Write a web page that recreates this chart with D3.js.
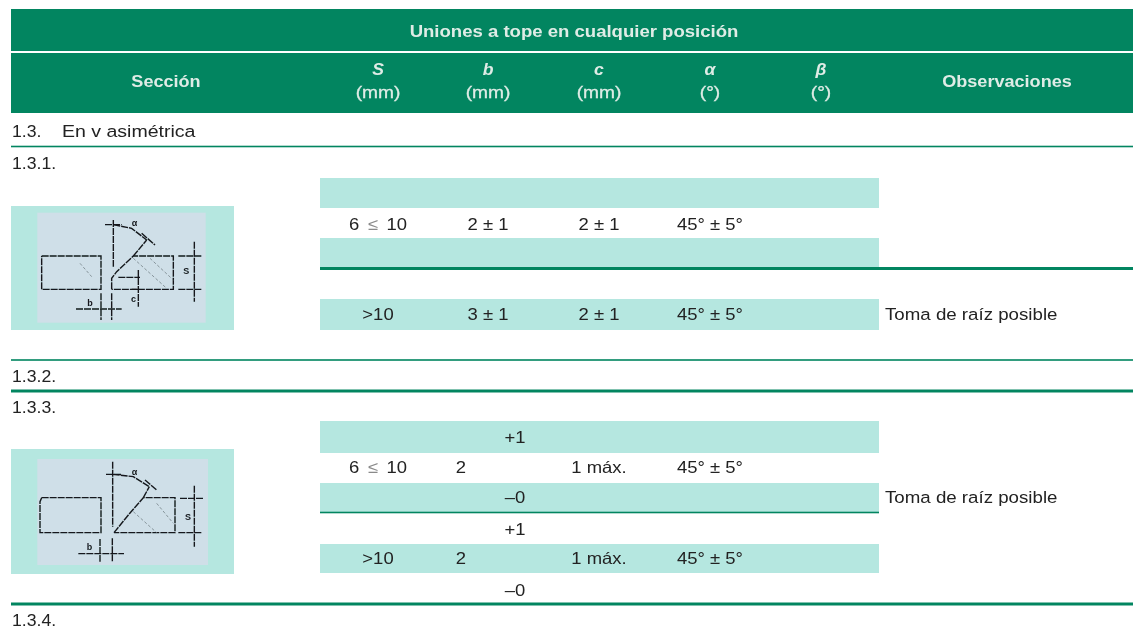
<!DOCTYPE html>
<html><head><meta charset="utf-8">
<script src="https://cdnjs.cloudflare.com/ajax/libs/d3/7.8.5/d3.min.js"></script>
<style>html,body{margin:0;padding:0;background:#fff}svg{display:block}text{font-family:"Liberation Sans",Arial,sans-serif}</style>
</head><body><svg id="c" width="1133" height="632"></svg>
<script>
// ---- data ----
const title = "Uniones a tope en cualquier posición";
const columns = ["seccion","S","b","c","alpha","beta","obs"];
const columnLabels = ["Sección","S","b","c","α","β","Observaciones"];
const columnUnits = ["","(mm)","(mm)","(mm)","(°)","(°)",""];
const sectionLabels = [["sec","1.3."],["r131","1.3.1."],["r132","1.3.2."],["r133","1.3.3."],["r134","1.3.4."]];
const bandRows = ["a1","a3","b1","c1","c3","d2"];
const cells = [
 ["a2","S","6 ≤ 10"],["a2","b","2 ± 1"],["a2","c","2 ± 1"],["a2","alpha","45° ± 5°"],
 ["b1","S",">10"],["b1","b","3 ± 1"],["b1","c","2 ± 1"],["b1","alpha","45° ± 5°"],
 ["c2","S","6 ≤ 10"],["c2","b0","2"],["c2","c","1 máx."],["c2","alpha","45° ± 5°"],
 ["c1","tol","+1"],["c3","tol","–0"],
 ["d1","tol","+1"],["d3","tol","–0"],
 ["d2","S",">10"],["d2","b0","2"],["d2","c","1 máx."],["d2","alpha","45° ± 5°"]
];
const notes = ["Toma de raíz posible","Toma de raíz posible"];
const noteRows = ["b1","c3"];
// section rules: [row key, from, to, weight]
const rules = [["ruleSec","left","right","m"],["ruleA","band","right","h"],["ruleB","left","right","m"],["ruleC","left","right","h"],["ruleD","band","bandEnd","m"],["ruleE","left","right","h"]];
// diagram strokes, in units of the drawing's own grid
const drawing1 = [
 [[125,168],[303,168],[303,268],[125,268],[125,168]],
 [[335,268],[335,235],[350,215],[400,168],[520,168],[520,268],[335,268]],
 [[340,60],[340,200]],[[315,74],[365,74]],
 [[340,74],[395,85],[440,120]],[[425,100],[465,135]],[[400,168],[440,120]],
 [[535,168],[605,168]],[[535,268],[605,268]],[[583,125],[583,305]],
 [[355,232],[420,232]],[[415,210],[415,320]],[[395,268],[420,268]],
 [[303,280],[303,360]],[[335,280],[335,360]],[[228,327],[365,327]]
];
const hatch1 = [[[400,175],[500,265]],[[450,175],[520,240]],[[240,190],[275,230]]];
const drawing2 = [
 [[125,158],[303,158],[303,263],[120,263],[120,170],[125,158]],
 [[342,263],[385,210],[430,158],[525,158],[525,263],[342,263]],
 [[338,50],[338,245]],[[318,88],[365,88]],
 [[338,88],[400,95],[448,125]],[[435,105],[470,135]],[[430,158],[448,125]],
 [[540,160],[610,160]],[[535,263],[605,263]],[[583,122],[583,305]],
 [[300,282],[300,350]],[[337,280],[337,350]],[[235,326],[372,326]]
];
const hatch2 = [[[400,200],[470,263]],[[470,175],[520,235]]];
const drawingLabels1 = [["α",395,78],["S",550,222],["c",393,305],["b",262,318]];
const drawingLabels2 = [["α",395,90],["S",555,225],["b",260,316]];

// ---- scales ----
const colX = d3.scaleOrdinal()
  .domain(["seccion","S","b","c","alpha","beta","obs","b0","tol"])
  .range([166,378,488,599,710,821,1007,461,515]);
const edge = d3.scaleOrdinal().domain(["left","band","bandEnd","right"]).range([11,320,879,1133]);
const rowTop = d3.scaleOrdinal()
  .domain(["a1","a3","b1","c1","c3","d2"]).range([178,238,299,421,483,544]);
const rowBottom = d3.scaleOrdinal()
  .domain(["a1","a3","b1","c1","c3","d2"]).range([208,267,330,453,512,573]);
const rowY = d3.scaleOrdinal()
  .domain(["sec","r131","a2","b1","r132","r133","c1","c2","c3","d1","d2","d3","r134"])
  .range([131,163,224,314,376,407,437,467,497,529,558,590,620]);
const ruleY = d3.scaleOrdinal()
  .domain(["ruleSec","ruleA","ruleB","ruleC","ruleD","ruleE"]).range([146.5,268.5,360,391,512.5,604]);
const ruleW = d3.scaleOrdinal().domain(["m","h"]).range([1.6,3]);

const GREEN="#028560", BAND="#b5e7e0", INK="#222", HEAD="#dfece6";
const at = (x,y,sx)=>`translate(${x},${y}) scale(${sx},1)`;
const svg = d3.select("#c");
const defs = svg.append("defs");
defs.append("filter").attr("id","soft").append("feGaussianBlur").attr("stdDeviation",0.45);
defs.append("filter").attr("id","soft2").attr("x","-5%").attr("y","-5%").attr("width","110%").attr("height","110%").append("feGaussianBlur").attr("stdDeviation",0.6);

// header
const head = svg.append("g");
head.append("rect").attr("x",edge("left")).attr("y",9).attr("width",edge("right")-edge("left")).attr("height",42).attr("fill",GREEN);
head.append("rect").attr("x",edge("left")).attr("y",53).attr("width",edge("right")-edge("left")).attr("height",60).attr("fill",GREEN);
const htxt = svg.append("g").attr("filter","url(#soft)").attr("fill",HEAD).attr("text-anchor","middle");
htxt.append("text").attr("transform",at(574,37,1.16)).attr("font-size",16).attr("font-weight","bold").text(title);
htxt.selectAll("text.lab").data(columns).join("text").attr("class","lab")
  .attr("transform",(d,i)=>at(colX(d),columnUnits[i]?75:87,columnUnits[i]?1.1:1.13))
  .attr("font-size",16).attr("font-weight","bold")
  .attr("font-style",(d,i)=>columnUnits[i]?"italic":"normal")
  .text((d,i)=>columnLabels[i]);
htxt.selectAll("text.unit").data(columns.filter((d,i)=>columnUnits[i])).join("text").attr("class","unit")
  .attr("transform",d=>at(colX(d),98,1.2)).attr("font-size",16)
  .attr("stroke",HEAD).attr("stroke-width",0.3)
  .text(d=>columnUnits[columns.indexOf(d)]);

// bands
svg.append("g").selectAll("rect").data(bandRows).join("rect")
  .attr("x",edge("band")).attr("width",edge("bandEnd")-edge("band"))
  .attr("y",d=>rowTop(d)).attr("height",d=>rowBottom(d)-rowTop(d)).attr("fill",BAND);

// rules
svg.append("g").selectAll("rect").data(rules).join("rect")
  .attr("x",d=>edge(d[1])).attr("width",d=>edge(d[2])-edge(d[1]))
  .attr("y",d=>ruleY(d[0])-ruleW(d[3])/2).attr("height",d=>ruleW(d[3])).attr("fill",GREEN);

// diagrams
const line = d3.line();
function diagram(top, height, innerTop, innerH, innerX, innerW, strokes, hatch, labels){
  const g = svg.append("g");
  const px = d3.scaleLinear().domain([0,720]).range([0,240]);
  const py = d3.scaleLinear().domain([0,405]).range([top,top+135]);
  g.append("rect").attr("x",edge("left")).attr("y",py(height[0])).attr("width",223).attr("height",py(height[1])-py(height[0])).attr("fill",BAND);
  g.append("rect").attr("x",px(innerX)).attr("y",py(innerTop)).attr("width",px(innerW)).attr("height",py(innerH)-py(0)).attr("fill","#cfdfe8");
  const s = g.append("g").attr("filter","url(#soft2)");
  s.selectAll("path.k").data(strokes).join("path").attr("class","k")
    .attr("d",d=>line(d.map(p=>[px(p[0]),py(p[1])])))
    .attr("fill","none").attr("stroke","#14191c").attr("stroke-width",1.4).attr("stroke-dasharray","7 1");
  s.selectAll("path.h").data(hatch).join("path").attr("class","h")
    .attr("d",d=>line(d.map(p=>[px(p[0]),py(p[1])])))
    .attr("fill","none").attr("stroke","#7f8c92").attr("stroke-width",0.9).attr("stroke-dasharray","3 2");
  s.selectAll("text").data(labels).join("text")
    .attr("x",d=>px(d[1])).attr("y",d=>py(d[2])).attr("font-size",9).attr("font-weight","bold").attr("fill","#14191c").text(d=>d[0]);
}
diagram(200,[18,390],38,330,112,505,drawing1,hatch1,drawingLabels1);
diagram(445,[12,387],42,318,112,512,drawing2,hatch2,drawingLabels2);

// body text
const body = svg.append("g").attr("filter","url(#soft)").attr("fill",INK).attr("font-size",16.5);
body.selectAll("text.c").data(cells).join("text").attr("class","c")
  .attr("transform",d=>at(colX(d[1]),rowY(d[0])+6,1.12)).attr("text-anchor","middle")
  .attr("word-spacing",d=>d[2].includes("≤")?3:0)
  .each(function(d){
    const t=d3.select(this);
    d[2].split(/(≤)/).forEach(part=>{ if(part) t.append("tspan").attr("fill",part==="≤"?"#8a8a8a":null).text(part); });
  });
body.selectAll("text.s").data(sectionLabels).join("text").attr("class","s")
  .attr("transform",d=>at(12,rowY(d[0])+6,1.07)).text(d=>d[1]);
body.append("text").attr("transform",at(62,rowY("sec")+6,1.15)).attr("font-size",17).text("En v asimétrica");
body.selectAll("text.n").data(notes).join("text").attr("class","n")
  .attr("transform",(d,i)=>at(885,rowY(noteRows[i])+6,1.133)).text(d=>d);
</script></body></html>
